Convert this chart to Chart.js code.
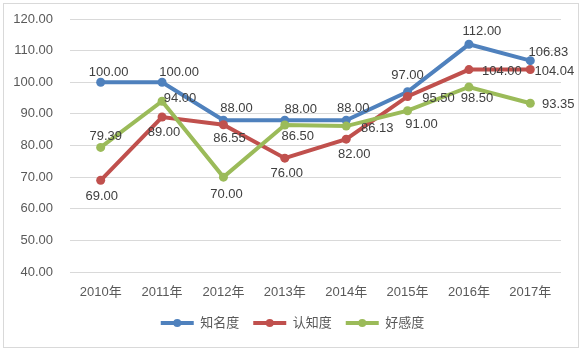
<!DOCTYPE html>
<html>
<head>
<meta charset="utf-8">
<script src="https://cdn.jsdelivr.net/npm/chart.js@4.4.1/dist/chart.umd.min.js"></script>
<style>
  body { margin: 0; background: #fff; }
  #wrap { width: 585px; height: 351px; position: relative; }
</style>
</head>
<body>
<div id="wrap"><canvas id="chart" width="585" height="351"></canvas></div>
<script>
var years = ['2010年', '2011年', '2012年', '2013年', '2014年', '2015年', '2016年', '2017年'];
var awareness = [100, 100, 88, 88, 88, 97, 112, 106.83];      // 知名度
var cognition = [69, 89, 86.55, 76, 82, 95.5, 104, 104.04];    // 认知度
var favor = [79.39, 94, 70, 86.5, 86.13, 91, 98.5, 93.35];     // 好感度

// where each value label sits relative to its point (dx, dy)
var label_offsets = [
  [[8,-10],[17,-10],[13,-12],[16,-11],[7,-12],[0,-16],[13,-13],[18,-8]],
  [[1,16],[2,15],[6,14],[2,15],[8,15],[31,2],[33,2],[24,2]],
  [[5,-11],[18,-3],[3,17],[13,11],[31,2],[14,14],[8,11],[28,1]]
];

var font_family = '"Liberation Sans", "Noto Sans CJK SC", sans-serif';

function make_dataset(name, values, color, order)
{
  return {
    label: name,
    data: values,
    borderColor: color,
    backgroundColor: color,
    borderWidth: 4,
    pointRadius: 4.5,
    pointBackgroundColor: color,
    pointBorderColor: color,
    pointBorderWidth: 0,
    tension: 0,
    order: order
  };
}

var frame_plugin = {
  id: 'frame',
  beforeDraw: function (chart) {
    var ctx = chart.ctx;
    ctx.save();
    ctx.fillStyle = '#fff';
    ctx.fillRect(0, 0, chart.width, chart.height);
    ctx.strokeStyle = '#D9D9D9';
    ctx.lineWidth = 1;
    ctx.strokeRect(3.5, 3.5, 575, 344);
    ctx.restore();
  },
  afterLayout: function (chart) {
    // centre the legend on the whole canvas, not on the padded area
    var legend = chart.legend;
    var shift = chart.width / 2 - (legend.left + legend.right) / 2;
    legend.left = 0;
    legend.right = chart.width;
    legend.width = chart.width;
    legend.legendHitBoxes.forEach(function (hb) { hb.left += shift; });
  }
};

var value_label_plugin = {
  id: 'valueLabels',
  afterDatasetsDraw: function (chart) {
    var ctx = chart.ctx;
    ctx.save();
    ctx.font = '13px ' + font_family;
    ctx.fillStyle = '#404040';
    ctx.textAlign = 'center';
    ctx.textBaseline = 'middle';
    chart.data.datasets.forEach(function (ds, di) {
      var meta = chart.getDatasetMeta(di);
      meta.data.forEach(function (pt, i) {
        var off = label_offsets[di][i];
        ctx.fillText(ds.data[i].toFixed(2), pt.x + off[0], pt.y + off[1]);
      });
    });
    ctx.restore();
  },
  afterDraw: function (chart) {
    // dot in the middle of each legend line
    var legend = chart.legend;
    if (!legend || !legend.legendHitBoxes) return;
    var ctx = chart.ctx;
    ctx.save();
    legend.legendItems.forEach(function (item, i) {
      var box = legend.legendHitBoxes[i];
      ctx.beginPath();
      ctx.fillStyle = item.fillStyle;
      ctx.arc(box.left + 33 / 2, box.top + box.height / 2, 4, 0, Math.PI * 2);
      ctx.fill();
    });
    ctx.restore();
  }
};

window.onload = function ()
{
  var ctx = document.getElementById('chart').getContext('2d');
  new Chart(ctx, {
    type: 'line',
    data: {
      labels: years,
      datasets: [
        make_dataset('知名度', awareness, '#4F81BD', 3),
        make_dataset('认知度', cognition, '#C0504D', 2),
        make_dataset('好感度', favor, '#9BBB59', 1)
      ]
    },
    options: {
      responsive: false,
      animation: false,
      layout: { padding: { left: 0, right: 24, top: 19, bottom: 11.5 } },
      plugins: {
        tooltip: { enabled: false },
        legend: {
          position: 'bottom',
          labels: {
            boxWidth: 33,
            boxHeight: 4,
            padding: 14,
            color: '#595959',
            font: { family: font_family, size: 13 },
            sort: function (a, b) { return a.datasetIndex - b.datasetIndex; },
            generateLabels: function (chart) {
              var items = Chart.defaults.plugins.legend.labels.generateLabels(chart);
              items.forEach(function (it) { it.lineWidth = 0; });
              return items;
            }
          }
        }
      },
      scales: {
        x: {
          offset: true,
          grid: { display: false, drawTicks: false },
          border: { display: false },
          ticks: { color: '#595959', padding: 13, font: { family: font_family, size: 13 }, maxRotation: 0 },
          afterFit: function (scale) { scale.height = 30.5; }
        },
        y: {
          min: 40,
          max: 120,
          grid: { color: '#D9D9D9', drawTicks: false },
          border: { display: false },
          ticks: {
            stepSize: 10,
            padding: 17,
            color: '#595959',
            font: { family: font_family, size: 13 },
            callback: function (v) { return v.toFixed(2); }
          },
          afterFit: function (scale) {
            scale.width = 70;
            scale.paddingTop = 0;
            scale.paddingBottom = 0;
          }
        }
      }
    },
    plugins: [frame_plugin, value_label_plugin]
  });
};
</script>
</body>
</html>
